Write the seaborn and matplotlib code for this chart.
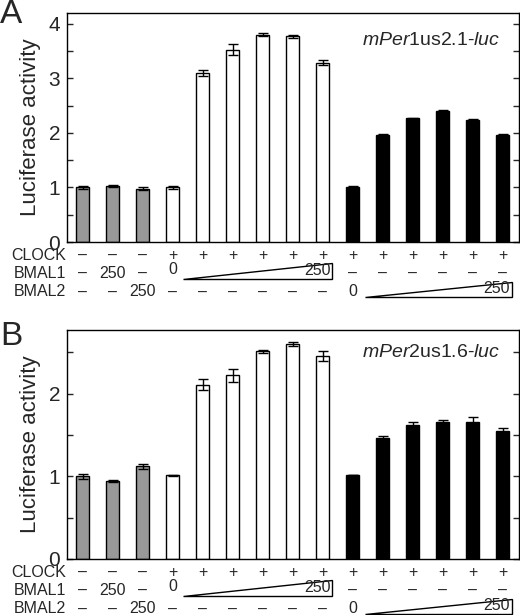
import numpy as np
import pandas as pd
import matplotlib
matplotlib.use("Agg")
import matplotlib.pyplot as plt
import matplotlib.transforms as mtransforms
from matplotlib.patches import Polygon
from matplotlib.ticker import MultipleLocator
import seaborn as sns

# data (15 lanes per panel)
lanes = list(range(15))
bar_group = ['ctrl'] * 3 + ['bmal1'] * 6 + ['bmal2'] * 6
group_colors = {'ctrl': '#999999', 'bmal1': 'white', 'bmal2': 'black'}

per1_values = [1.00, 1.02, 0.98, 1.00, 3.10, 3.53, 3.80, 3.77, 3.29,
               1.00, 1.97, 2.27, 2.40, 2.24, 1.97]
per1_errors = [0.02, 0.02, 0.02, 0.03, 0.05, 0.10, 0.03, 0.03, 0.05,
               0.03, 0.01, 0.01, 0.02, 0.01, 0.01]

per2_values = [1.00, 0.94, 1.12, 1.01, 2.11, 2.22, 2.51, 2.60, 2.46,
               1.01, 1.46, 1.62, 1.66, 1.66, 1.55]
per2_errors = [0.03, 0.01, 0.03, 0.01, 0.07, 0.08, 0.02, 0.03, 0.06,
               0.00, 0.03, 0.04, 0.02, 0.06, 0.03]

clock_row = ['–', '–', '–'] + ['+'] * 12
bmal1_row = ['–', '250', '–', '', '', '', '', '', ''] + ['–'] * 6
bmal2_row = ['–', '–', '250'] + ['–'] * 6 + ['', '', '', '', '', '']
row_names = ['CLOCK', 'BMAL1', 'BMAL2']

sns.set_style('ticks')
plt.rcParams['font.family'] = ['Liberation Sans', 'DejaVu Sans']
plt.rcParams['mathtext.fontset'] = 'custom'
plt.rcParams['mathtext.rm'] = 'Liberation Sans'
plt.rcParams['mathtext.it'] = 'Liberation Sans:italic'

fig = plt.figure(figsize=(5.2, 6.15), dpi=100)
ax_a = fig.add_axes([0.1288, 0.6065, 0.869, 0.3724])
ax_b = fig.add_axes([0.1288, 0.0911, 0.869, 0.3724])

row_fs = 11.5


def draw_panel(ax, values, errors, ymax, title, title_y, letter, letter_y):
    df = pd.DataFrame({'lane': lanes, 'value': values, 'group': bar_group})
    sns.barplot(data=df, x='lane', y='value', hue='lane',
                palette=[group_colors[g] for g in bar_group],
                width=0.43, edgecolor='black', linewidth=1.0,
                legend=False, ax=ax, errorbar=None)
    ax.errorbar(lanes, values, yerr=errors, fmt='none', ecolor='black',
                elinewidth=1.0, capsize=3.8, capthick=1.0)

    ax.set_xlim(-0.52, 14.54)
    ax.set_ylim(0, ymax)
    ax.yaxis.set_major_locator(MultipleLocator(1))
    ax.yaxis.set_minor_locator(MultipleLocator(0.5))
    ax.tick_params(axis='y', which='both', direction='in', left=True,
                   right=True, length=4, width=1, labelsize=15, pad=5)
    ax.tick_params(axis='x', bottom=False, labelbottom=False)
    ax.set_xlabel('')
    ax.set_ylabel('Luciferase activity', fontsize=16, labelpad=5)
    for sp in ax.spines.values():
        sp.set_visible(True)
        sp.set_linewidth(1.0)
        sp.set_color('black')

    ax.text(0.958, title_y, title, transform=ax.transAxes, ha='right',
            va='center', fontsize=14)
    ax.text(-0.148, letter_y, letter, transform=ax.transAxes, ha='left',
            va='baseline', fontsize=24)

    # condition rows beneath the bars
    trans = mtransforms.blended_transform_factory(ax.transData, ax.transAxes)
    row_y = [-0.058, -0.137, -0.218]
    for name, y in zip(row_names, row_y):
        ax.text(-0.55, y, name, transform=trans, ha='right', va='center',
                fontsize=row_fs)
    for rows, y in zip([clock_row, bmal1_row, bmal2_row], row_y):
        for i, s in enumerate(rows):
            if s:
                ax.text(i, y, s, transform=trans, ha='center', va='center',
                        fontsize=row_fs)
    ax.text(3, -0.12, '0', transform=trans, ha='center', va='center',
            fontsize=row_fs)
    ax.text(9, -0.218, '0', transform=trans, ha='center', va='center',
            fontsize=row_fs)

    # dose wedges
    for x0, x1, yb, yt in [(3.35, 8.32, -0.162, -0.092),
                           (9.4, 14.3, -0.24, -0.173)]:
        wedge = Polygon([[x0, yb], [x1, yb], [x1, yt]], closed=True,
                        facecolor='white', edgecolor='black', lw=1.0,
                        transform=trans, clip_on=False)
        ax.add_patch(wedge)
        ax.text(x1 - 0.06, yb + 0.004, '250', transform=trans, ha='right',
                va='bottom', fontsize=row_fs)


draw_panel(ax_a, per1_values, per1_errors, 4.2,
           r'$\mathit{mPer1}$us2.1-$\mathit{luc}$', 0.882, 'A', 0.955)
draw_panel(ax_b, per2_values, per2_errors, 2.77,
           r'$\mathit{mPer}$2us1.6-$\mathit{luc}$', 0.9, 'B', 0.935)

fig.savefig('out.png', dpi=100)
